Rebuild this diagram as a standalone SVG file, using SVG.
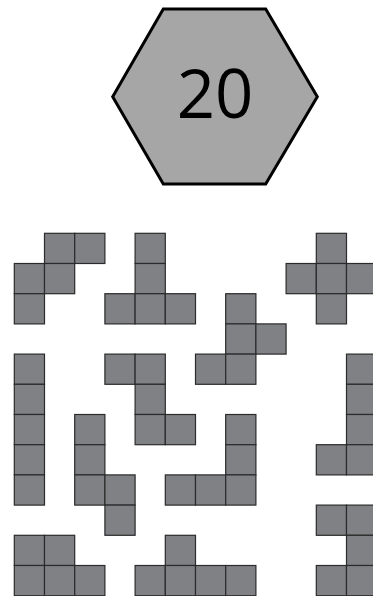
<svg xmlns="http://www.w3.org/2000/svg" width="373" height="596" viewBox="0 0 373 596">
<style>
.sq{fill:#808185;stroke:#2b2b2b;stroke-width:1.2}
.hex{fill:#a6a6a6;stroke:#000;stroke-width:3;stroke-linejoin:miter}
.num{font-family:"Open Sans","Noto Sans",sans-serif;font-size:67px;fill:#000;text-anchor:middle}
</style>
<rect width="373" height="596" fill="#fff"/>
<g id="hexagon">
<polygon class="hex" points="163.3,9 265.7,9 317.3,96.7 265.7,184 163.3,184 112.7,96.7"/>
<text class="num" x="215" y="117.5">20</text>
</g>
<g id="pieces">
<g id="piece-W">
<rect class="sq" x="44.5" y="233.3" width="30.2" height="30.2"/>
<rect class="sq" x="74.7" y="233.3" width="30.2" height="30.2"/>
<rect class="sq" x="14.3" y="263.5" width="30.2" height="30.2"/>
<rect class="sq" x="44.5" y="263.5" width="30.2" height="30.2"/>
<rect class="sq" x="14.3" y="293.7" width="30.2" height="30.2"/>
</g>
<g id="piece-T">
<rect class="sq" x="135.1" y="233.3" width="30.2" height="30.2"/>
<rect class="sq" x="135.1" y="263.5" width="30.2" height="30.2"/>
<rect class="sq" x="104.9" y="293.7" width="30.2" height="30.2"/>
<rect class="sq" x="135.1" y="293.7" width="30.2" height="30.2"/>
<rect class="sq" x="165.3" y="293.7" width="30.2" height="30.2"/>
</g>
<g id="piece-F">
<rect class="sq" x="225.7" y="293.7" width="30.2" height="30.2"/>
<rect class="sq" x="225.7" y="323.9" width="30.2" height="30.2"/>
<rect class="sq" x="255.9" y="323.9" width="30.2" height="30.2"/>
<rect class="sq" x="195.5" y="354.1" width="30.2" height="30.2"/>
<rect class="sq" x="225.7" y="354.1" width="30.2" height="30.2"/>
</g>
<g id="piece-X">
<rect class="sq" x="316.3" y="233.3" width="30.2" height="30.2"/>
<rect class="sq" x="286.1" y="263.5" width="30.2" height="30.2"/>
<rect class="sq" x="316.3" y="263.5" width="30.2" height="30.2"/>
<rect class="sq" x="346.5" y="263.5" width="30.2" height="30.2"/>
<rect class="sq" x="316.3" y="293.7" width="30.2" height="30.2"/>
</g>
<g id="piece-I">
<rect class="sq" x="14.3" y="354.1" width="30.2" height="30.2"/>
<rect class="sq" x="14.3" y="384.3" width="30.2" height="30.2"/>
<rect class="sq" x="14.3" y="414.5" width="30.2" height="30.2"/>
<rect class="sq" x="14.3" y="444.7" width="30.2" height="30.2"/>
<rect class="sq" x="14.3" y="474.9" width="30.2" height="30.2"/>
</g>
<g id="piece-Z">
<rect class="sq" x="104.9" y="354.1" width="30.2" height="30.2"/>
<rect class="sq" x="135.1" y="354.1" width="30.2" height="30.2"/>
<rect class="sq" x="135.1" y="384.3" width="30.2" height="30.2"/>
<rect class="sq" x="135.1" y="414.5" width="30.2" height="30.2"/>
<rect class="sq" x="165.3" y="414.5" width="30.2" height="30.2"/>
</g>
<g id="piece-N">
<rect class="sq" x="74.7" y="414.5" width="30.2" height="30.2"/>
<rect class="sq" x="74.7" y="444.7" width="30.2" height="30.2"/>
<rect class="sq" x="74.7" y="474.9" width="30.2" height="30.2"/>
<rect class="sq" x="104.9" y="474.9" width="30.2" height="30.2"/>
<rect class="sq" x="104.9" y="505.1" width="30.2" height="30.2"/>
</g>
<g id="piece-V">
<rect class="sq" x="225.7" y="414.5" width="30.2" height="30.2"/>
<rect class="sq" x="225.7" y="444.7" width="30.2" height="30.2"/>
<rect class="sq" x="165.3" y="474.9" width="30.2" height="30.2"/>
<rect class="sq" x="195.5" y="474.9" width="30.2" height="30.2"/>
<rect class="sq" x="225.7" y="474.9" width="30.2" height="30.2"/>
</g>
<g id="piece-L">
<rect class="sq" x="346.5" y="354.1" width="30.2" height="30.2"/>
<rect class="sq" x="346.5" y="384.3" width="30.2" height="30.2"/>
<rect class="sq" x="346.5" y="414.5" width="30.2" height="30.2"/>
<rect class="sq" x="316.3" y="444.7" width="30.2" height="30.2"/>
<rect class="sq" x="346.5" y="444.7" width="30.2" height="30.2"/>
</g>
<g id="piece-U">
<rect class="sq" x="316.3" y="505.1" width="30.2" height="30.2"/>
<rect class="sq" x="346.5" y="505.1" width="30.2" height="30.2"/>
<rect class="sq" x="346.5" y="535.3" width="30.2" height="30.2"/>
<rect class="sq" x="316.3" y="565.5" width="30.2" height="30.2"/>
<rect class="sq" x="346.5" y="565.5" width="30.2" height="30.2"/>
</g>
<g id="piece-P">
<rect class="sq" x="14.3" y="535.3" width="30.2" height="30.2"/>
<rect class="sq" x="44.5" y="535.3" width="30.2" height="30.2"/>
<rect class="sq" x="14.3" y="565.5" width="30.2" height="30.2"/>
<rect class="sq" x="44.5" y="565.5" width="30.2" height="30.2"/>
<rect class="sq" x="74.7" y="565.5" width="30.2" height="30.2"/>
</g>
<g id="piece-Y">
<rect class="sq" x="165.3" y="535.3" width="30.2" height="30.2"/>
<rect class="sq" x="135.1" y="565.5" width="30.2" height="30.2"/>
<rect class="sq" x="165.3" y="565.5" width="30.2" height="30.2"/>
<rect class="sq" x="195.5" y="565.5" width="30.2" height="30.2"/>
<rect class="sq" x="225.7" y="565.5" width="30.2" height="30.2"/>
</g>
</g>
</svg>
